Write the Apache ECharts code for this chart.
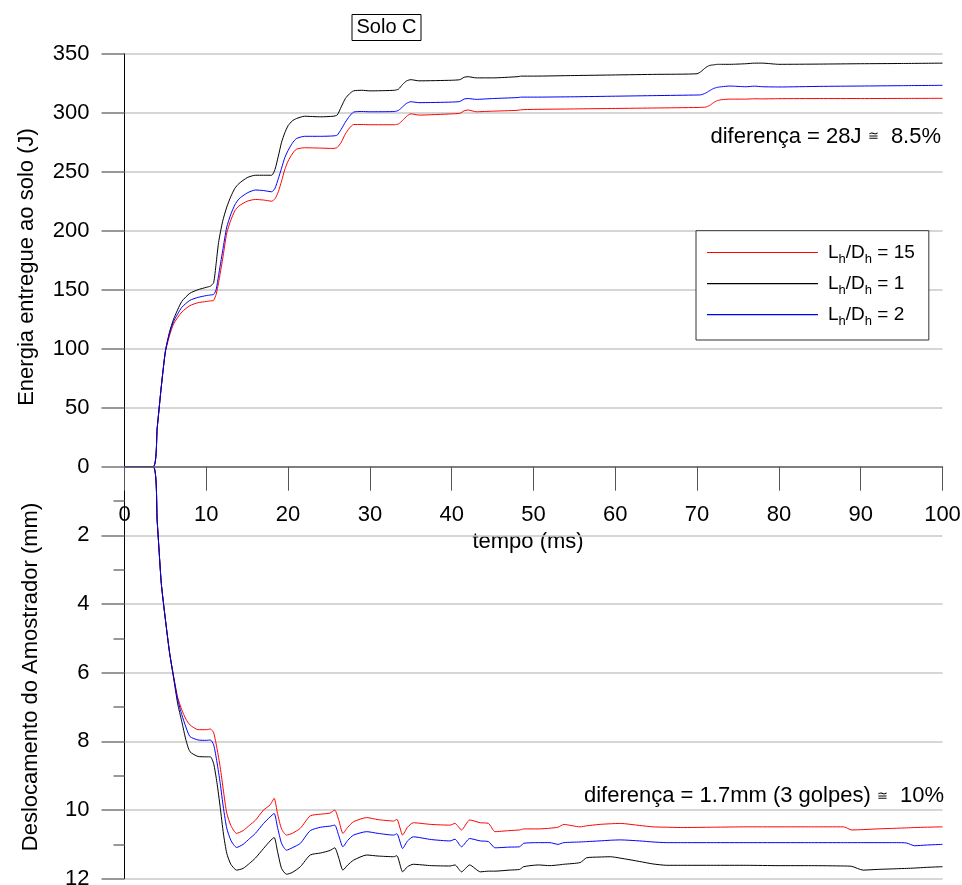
<!DOCTYPE html>
<html>
<head>
<meta charset="utf-8">
<script src="https://cdn.jsdelivr.net/npm/echarts@6/dist/echarts.min.js"></script>
<style>
html,body{margin:0;padding:0;background:#fff;}
#chart{width:962px;height:885px;}
</style>
</head>
<body>
<div id="chart"></div>
<script>
// ---- data ----
var seriesNames = ['Lh/Dh = 15', 'Lh/Dh = 1', 'Lh/Dh = 2'];
var seriesColors = ['#ff0000', '#000000', '#0000ff'];

var energyTime = [0,3.5,4,4.5,5,5.5,6,7,8,9,10,10.5,10.9,11.2,11.5,12,12.5,13,13.5,14,15,16,17,18,18.4,18.8,19.2,19.6,20,20.5,21,22,24,25.5,26,26.5,27,27.5,28,29,30,33,33.5,34,34.5,35,36,40,41,41.5,42,43,45,48,48.5,50,55,60,65,70,70.5,71,71.5,72,72.5,73,74,76,77,78,80,85,90,95,100];
var energy15 = [0,0,33,68,97,111,121,131,136.5,139,140,140.5,141,146,156,176,198,209,217,221,225,226.5,226,225,227,233,242,252,259,265,269,270.3,270,269.7,270.5,275,282,287,290,290,289.8,289.8,290.5,293.5,297,299,298,299,299.5,301.5,302.3,300.8,301.3,302,302.5,302.8,303.2,303.6,304,304.4,304.5,304.7,306,308.5,310.3,311,311.5,311.5,311.8,311.7,311.9,312,312,312.1,312.2];
var energy1 = [0,0,33,68,98,114,125,140,147,150,152,153,156,172,190,208,220,229,236,240,245,247,247,247,252,263,275,283,289,293,295,297,296.5,297,298,305,312,316,318.5,319,318.5,319,320,324,327,328,327,327.5,328,330,330.5,329.5,329.5,330.5,331,331,331.5,332,332.5,333,335,338,340,340.5,341,341,341,341.5,342,342,341,341.2,341.5,341.7,342];
var energy2 = [0,0,33,68,98,113,123,135,141,143.5,145,145.5,146,150,162,183,203,214,222,227,232,234.5,234,233,236,244,253,262,268,274,278,280,280,280.3,281,286,292,297,300.5,301,300.8,301,302,305,308,309.3,308.5,309,309.5,311.5,312,311.3,312,312.8,313.2,313.2,313.5,314,314.5,315,315.2,316.5,318.5,320.5,321.5,322,322.6,322,322.5,322,321.8,322.3,322.6,322.9,323.2];

var dispTime = [0,3.5,4,4.5,5,5.5,6,6.5,7,7.5,8,9,10,10.5,10.9,11.3,11.7,12.1,12.5,13,13.7,14.5,15.3,16,17,17.8,18.3,18.7,19.2,19.8,20.5,21.5,22.7,24,25.1,25.7,26.2,26.7,27.3,28,29.6,31,32.9,33.3,34,34.6,35.3,37.5,39.8,40.4,41.2,42.2,43.5,44.5,45.3,47,48.3,48.8,50.6,52,53,53.7,55.7,56.5,58,59.4,60.6,63,64.6,66.3,68,72,76,80,84,87.9,88.9,90.3,92,94.4,95.6,96.6,98,100];
var disp15 = [0,0,1.6,3.4,4.45,5.4,6.1,6.72,7.08,7.35,7.52,7.66,7.66,7.64,7.75,8.2,8.75,9.45,10.09,10.45,10.68,10.6,10.44,10.3,10.0,9.85,9.66,10.1,10.55,10.73,10.68,10.53,10.17,10.12,10.09,10.0,10.3,10.68,10.5,10.34,10.22,10.28,10.32,10.27,10.73,10.5,10.37,10.42,10.44,10.39,10.58,10.29,10.37,10.39,10.63,10.6,10.58,10.55,10.55,10.53,10.5,10.42,10.49,10.46,10.42,10.4,10.39,10.45,10.49,10.5,10.51,10.5,10.49,10.49,10.49,10.49,10.58,10.57,10.55,10.53,10.52,10.51,10.5,10.49];
var disp1 = [0,0,1.6,3.4,4.45,5.4,6.15,6.9,7.42,7.95,8.3,8.44,8.45,8.45,8.65,9.2,9.92,10.7,11.26,11.58,11.75,11.7,11.55,11.4,11.12,10.9,10.8,11.2,11.7,11.87,11.82,11.65,11.31,11.25,11.18,11.1,11.4,11.75,11.6,11.46,11.31,11.34,11.36,11.33,11.8,11.65,11.58,11.62,11.63,11.6,11.8,11.6,11.8,11.78,11.78,11.75,11.73,11.65,11.6,11.62,11.6,11.58,11.53,11.39,11.37,11.36,11.4,11.5,11.57,11.61,11.61,11.61,11.61,11.62,11.62,11.63,11.64,11.75,11.73,11.71,11.7,11.69,11.67,11.65];
var disp2 = [0,0,1.6,3.4,4.45,5.4,6.12,6.78,7.22,7.58,7.86,7.96,7.97,7.96,8.1,8.6,9.22,9.95,10.53,10.88,11.09,11.0,10.83,10.68,10.39,10.2,10.1,10.5,10.97,11.17,11.1,10.97,10.6,10.5,10.47,10.44,10.75,11.07,10.88,10.73,10.63,10.68,10.73,10.69,11.12,10.9,10.78,10.86,10.9,10.85,11.07,10.83,10.9,10.92,11.1,11.08,11.07,10.97,10.95,10.95,11.0,10.95,10.93,10.92,10.9,10.88,10.87,10.9,10.93,10.95,10.95,10.95,10.95,10.95,10.95,10.95,10.95,10.95,10.95,10.95,10.96,11.04,11.02,11.0];

var xTicks = {min: 0, max: 100, interval: 10};
var energyTicks = {min: 0, max: 350, interval: 50};
var dispTicks = {min: 0, max: 12, interval: 2};

var titleText = 'Solo C';
var energyAxisTitle = 'Energia entregue ao solo (J)';
var dispAxisTitle = 'Deslocamento do Amostrador (mm)';
var timeAxisTitle = 'tempo (ms)';
var note1 = ['diferença = 28J ', '≅', '  8.5%'];
var note2 = ['diferença = 1.7mm (3 golpes) ', '≅', '  10%'];

// ---- build ----
var FONT = "'Liberation Sans', Arial, sans-serif";
function zip(t, v) { return t.map(function (x, i) { return [x, v[i]]; }); }
var energySets = [energy15, energy1, energy2];
var dispSets = [disp15, disp1, disp2];

var series = [];
seriesNames.forEach(function (n, i) {
  series.push({
    name: n, type: 'line', xAxisIndex: 0, yAxisIndex: 0,
    data: zip(energyTime, energySets[i]), showSymbol: false, symbol: 'none',
    smooth: 0.2, lineStyle: {color: seriesColors[i], width: 1}, itemStyle: {color: seriesColors[i]}, z: 3 + i
  });
});
seriesNames.forEach(function (n, i) {
  series.push({
    name: n, type: 'line', xAxisIndex: 1, yAxisIndex: 1,
    data: zip(dispTime, dispSets[i]), showSymbol: false, symbol: 'none',
    smooth: 0.2, lineStyle: {color: seriesColors[i], width: 1}, itemStyle: {color: seriesColors[i]}, z: 3 + i
  });
});

var tickStyle = {color: '#777', width: 1.5};
var splitStyle = {color: '#c8c8c8', width: 1.5};

var option = {
  animation: false,
  backgroundColor: '#fff',
  title: {
    text: titleText, left: 351.5, top: 14,
    borderColor: '#000', borderWidth: 1, padding: [3, 5, 4, 5],
    textStyle: {fontFamily: FONT, fontSize: 20, fontWeight: 'normal', color: '#000'}
  },
  legend: {
    data: seriesNames, orient: 'vertical', left: 696, top: 230.7,
    padding: [12.3, 14, 12.3, 11], itemGap: 8.6, itemWidth: 111, itemHeight: 1.2,
    icon: 'rect',
    borderColor: '#333', borderWidth: 1, backgroundColor: '#fff',
    formatter: function (name) {
      return name.replace(/^Lh\/Dh(.*)$/, '{n|L}{s|h}{n|/D}{s|h}{n|$1}');
    },
    textStyle: {
      fontFamily: FONT, color: '#000', padding: [0, 0, 0, 5],
      rich: {
        n: {fontFamily: FONT, fontSize: 19, lineHeight: 26, color: '#000', verticalAlign: 'middle'},
        s: {fontFamily: FONT, fontSize: 13, lineHeight: 13, color: '#000', verticalAlign: 'bottom'}
      }
    }
  },
  grid: [
    {left: 124.5, right: 19.5, top: 53.7, height: 413, outerBoundsMode: 'none', containLabel: false},
    {left: 124.5, right: 19.5, top: 466.7, height: 412, outerBoundsMode: 'none', containLabel: false}
  ],
  xAxis: [
    {
      type: 'value', gridIndex: 0, min: xTicks.min, max: xTicks.max, interval: xTicks.interval,
      position: 'bottom',
      axisLine: {show: true, onZero: false, lineStyle: {color: '#666', width: 1.5}},
      axisTick: {show: true, inside: false, length: 24, lineStyle: {color: '#555', width: 1}},
      axisLabel: {margin: 37, fontFamily: FONT, fontSize: 22, color: '#000'},
      splitLine: {show: false}, z: 10
    },
    {
      type: 'value', gridIndex: 1, min: xTicks.min, max: xTicks.max, interval: xTicks.interval,
      show: false, splitLine: {show: false}
    }
  ],
  yAxis: [
    {
      type: 'value', gridIndex: 0, min: energyTicks.min, max: energyTicks.max, interval: energyTicks.interval,
      axisLine: {show: true, lineStyle: {color: '#000', width: 1}},
      axisTick: {show: true, inside: false, length: 23, lineStyle: tickStyle},
      axisLabel: {margin: 35, fontFamily: FONT, fontSize: 22, color: '#000'},
      splitLine: {show: true, lineStyle: splitStyle}
    },
    {
      type: 'value', gridIndex: 1, inverse: true, min: dispTicks.min, max: dispTicks.max, interval: dispTicks.interval,
      axisLine: {show: true, lineStyle: {color: '#000', width: 1}},
      axisTick: {show: true, inside: false, length: 23, lineStyle: tickStyle},
      minorTick: {show: true, splitNumber: 2, length: 11, lineStyle: tickStyle},
      axisLabel: {margin: 35, fontFamily: FONT, fontSize: 22, color: '#000',
        formatter: function (v) { return v === 0 ? '' : String(v); }},
      splitLine: {show: true, lineStyle: splitStyle}
    }
  ],
  graphic: [
    {type: 'text', x: 27, y: 267, rotation: Math.PI / 2,
      style: {text: energyAxisTitle, font: '22px ' + FONT, fill: '#000', align: 'center', verticalAlign: 'middle'}},
    {type: 'text', x: 31, y: 677, rotation: Math.PI / 2,
      style: {text: dispAxisTitle, font: '22px ' + FONT, fill: '#000', align: 'center', verticalAlign: 'middle'}},
    {type: 'text', x: 528, y: 541.7,
      style: {text: timeAxisTitle, font: '22px ' + FONT, fill: '#000', align: 'center', verticalAlign: 'middle'}},
    {type: 'text', x: 710.5, y: 136.5, z: 20,
      style: {text: note1[0] + '{s|' + note1[1] + '}' + note1[2], font: '22px ' + FONT, fill: '#000',
        align: 'left', verticalAlign: 'middle',
        rich: {s: {fontSize: 13, fontFamily: FONT, fill: '#000', verticalAlign: 'middle'}}}},
    {type: 'text', x: 584, y: 796, z: 20,
      style: {text: note2[0] + '{s|' + note2[1] + '}' + note2[2], font: '22px ' + FONT, fill: '#000',
        align: 'left', verticalAlign: 'middle',
        rich: {s: {fontSize: 13, fontFamily: FONT, fill: '#000', verticalAlign: 'middle'}}}}
  ],
  series: series
};

var chart = echarts.init(document.getElementById('chart'), null, {renderer: 'canvas'});
chart.setOption(option);
</script>
</body>
</html>
